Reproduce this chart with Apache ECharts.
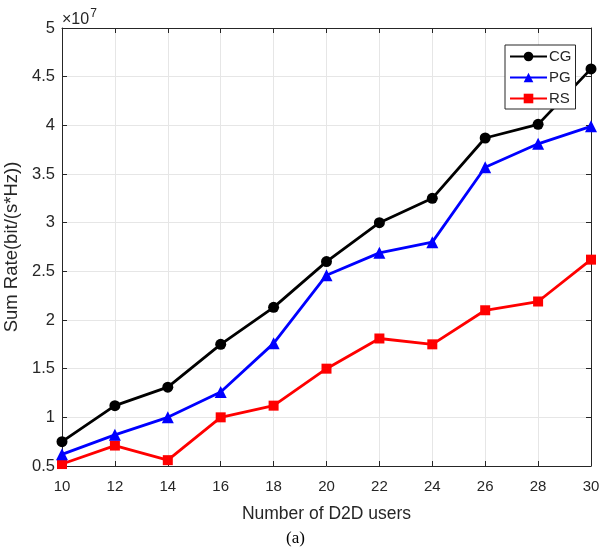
<!DOCTYPE html>
<html><head><meta charset="utf-8">
<script src="https://cdn.jsdelivr.net/npm/echarts@6/dist/echarts.min.js"></script>
<style>html,body{margin:0;padding:0;background:#fff;}#c{width:601px;height:550px;}</style>
</head><body><div id="c"></div>
<script>
const users = [10,12,14,16,18,20,22,24,26,28,30];
const CG = [0.75,1.12,1.31,1.75,2.13,2.60,3.00,3.25,3.87,4.01,4.58];
const PG = [0.62,0.82,1.00,1.26,1.76,2.46,2.69,2.80,3.57,3.81,3.99];
const RS = [0.52,0.71,0.56,1.00,1.12,1.50,1.81,1.75,2.10,2.19,2.62];
const FONT = 'Liberation Sans, Arial, sans-serif';
const TXT = '#262626';
const chart = echarts.init(document.getElementById('c'));
const pairs = a => users.map((u,i)=>[u,a[i]]);
const axisCommon = {
  axisLine:{show:true,onZero:false,lineStyle:{color:TXT,width:1}},
  axisTick:{show:true,inside:true,length:5,lineStyle:{color:TXT}},
};
chart.setOption({
  animation:false,
  backgroundColor:'#fff',
  grid:{left:62,right:10,top:28,bottom:84,containLabel:false,outerBoundsMode:'none'},
  legend:{
    orient:'vertical',left:505,top:45,
    backgroundColor:'#fff',borderColor:TXT,borderWidth:1,
    padding:[4,4,3,4],itemWidth:37,itemHeight:12,itemGap:6,
    textStyle:{fontFamily:FONT,fontSize:15,color:TXT,padding:[0,0,0,-3]},
    data:['CG','PG','RS']
  },
  xAxis:[
    Object.assign({type:'value',min:10,max:30,interval:2,position:'bottom',
      name:'Number of D2D users',nameLocation:'middle',nameGap:39,
      nameTextStyle:{fontFamily:FONT,fontSize:17.5,color:TXT},
      axisLabel:{fontFamily:FONT,fontSize:15,color:TXT,margin:13},
      splitLine:{show:true,lineStyle:{color:'#e6e6e6',width:1}}},axisCommon),
    Object.assign({type:'value',min:10,max:30,interval:2,position:'top',
      axisLabel:{show:false},splitLine:{show:false}},axisCommon)
  ],
  yAxis:[
    Object.assign({type:'value',min:0.5,max:5,interval:0.5,position:'left',
      name:'Sum Rate(bit/(s*Hz))',nameLocation:'middle',nameGap:31,
      nameTextStyle:{fontFamily:FONT,fontSize:18.5,color:TXT},
      axisLabel:{fontFamily:FONT,fontSize:16.5,color:TXT,margin:7},
      splitLine:{show:true,lineStyle:{color:'#e6e6e6',width:1}}},axisCommon),
    Object.assign({type:'value',min:0.5,max:5,interval:0.5,position:'right',
      axisLabel:{show:false},splitLine:{show:false}},axisCommon)
  ],
  graphic:[
    {type:'text',left:62,top:8,style:{
      text:'{a|×10}{b|7}',
      rich:{a:{fontFamily:FONT,fontSize:16,fill:TXT,verticalAlign:'bottom'},
            b:{fontFamily:FONT,fontSize:12,fill:TXT,verticalAlign:'top',padding:[0,0,8,1]}}}},
    {type:'text',left:286,top:530,style:{text:'(a)',fontFamily:'Liberation Serif, Times New Roman, serif',fontSize:17,fill:'#000'}}
  ],
  series:[
    {name:'CG',type:'line',data:pairs(CG),symbol:'circle',symbolSize:11,clip:false,
     itemStyle:{color:'#000'},lineStyle:{color:'#000',width:2.8},z:3},
    {name:'PG',type:'line',data:pairs(PG),symbol:'triangle',symbolSize:12,clip:false,
     itemStyle:{color:'#0000ff'},lineStyle:{color:'#0000ff',width:2.8},z:2},
    {name:'RS',type:'line',data:pairs(RS),symbol:'rect',symbolSize:10,clip:false,
     itemStyle:{color:'#ff0000'},lineStyle:{color:'#ff0000',width:2.8},z:1}
  ]
});
</script></body></html>
